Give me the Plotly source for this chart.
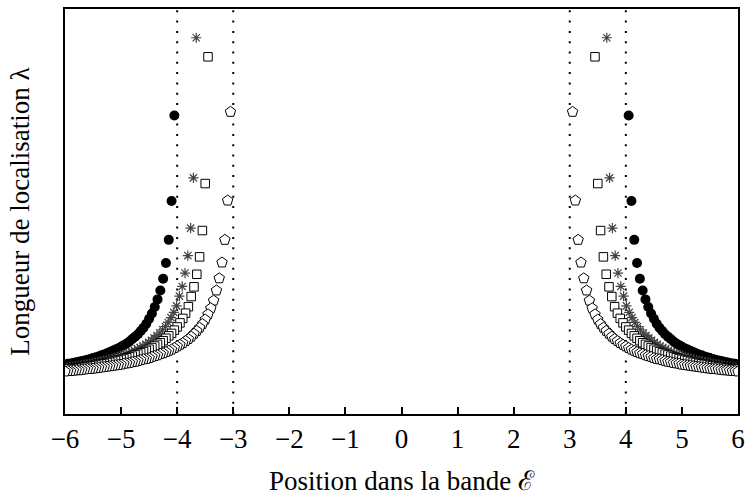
import numpy as np
import plotly.graph_objects as go

# Localisation length on each side of the band (|E| grid, symmetric in E -> -E)
# Energy grids (step 0.05) for each disorder series
energy_circles = np.round(np.arange(4.05, 6.0001, 0.05), 2)
energy_stars = np.round(np.arange(3.66, 5.9601, 0.05), 2)
energy_squares = np.round(np.arange(3.45, 6.0001, 0.05), 2)
energy_pentagons = np.round(np.arange(3.05, 6.0001, 0.05), 2)

lambda_circles = [
    73.7, 52.6, 43.0, 37.3, 33.4, 30.5, 28.3, 26.4, 24.8, 23.5,
    22.3, 21.3, 20.5, 19.7, 19.1, 18.5, 17.9, 17.4, 17.0, 16.6,
    16.2, 15.9, 15.6, 15.3, 15.0, 14.7, 14.5, 14.2, 14.0, 13.8,
    13.6, 13.4, 13.2, 13.1, 12.9, 12.8, 12.6, 12.5, 12.4, 12.2,
]
lambda_stars = [
    92.9, 58.3, 45.9, 39.1, 34.8, 31.5, 29.1, 26.7, 25.1, 23.8,
    22.6, 21.6, 20.8, 20.0, 19.4, 18.8, 18.2, 17.7, 17.2, 16.8,
    16.4, 16.1, 15.7, 15.4, 15.1, 14.9, 14.6, 14.4, 14.1, 13.9,
    13.7, 13.5, 13.3, 13.2, 13.0, 12.9, 12.7, 12.6, 12.4, 12.3,
    12.2, 12.0, 11.9, 11.8, 11.7, 11.6, 11.5,
]
lambda_squares = [
    88.2, 56.9, 45.3, 38.8, 34.5, 31.4, 29.0, 26.5, 24.9, 23.6,
    22.5, 21.5, 20.7, 19.9, 19.3, 18.7, 18.1, 17.6, 17.2, 16.8,
    16.4, 16.0, 15.7, 15.4, 15.1, 14.8, 14.6, 14.3, 14.1, 13.9,
    13.7, 13.5, 13.3, 13.2, 13.0, 12.8, 12.7, 12.5, 12.4, 12.3,
    12.2, 12.0, 11.9, 11.8, 11.7, 11.6, 11.5, 11.4, 11.3, 11.2,
    11.2, 11.1,
]
lambda_pentagons = [
    74.6, 52.7, 43.0, 37.4, 33.5, 30.5, 28.0, 26.1, 24.6, 23.3,
    22.2, 21.3, 20.5, 19.8, 19.1, 18.5, 18.0, 17.5, 17.1, 16.7,
    16.3, 15.9, 15.6, 15.3, 15.0, 14.8, 14.5, 14.3, 14.1, 13.8,
    13.6, 13.5, 13.3, 13.1, 12.9, 12.8, 12.6, 12.5, 12.4, 12.2,
    12.1, 12.0, 11.9, 11.8, 11.7, 11.6, 11.5, 11.4, 11.3, 11.2,
    11.1, 11.1, 11.0, 10.9, 10.8, 10.8, 10.7, 10.6, 10.6, 10.5,
]

band_edges = [-4, -3, 3, 4]
x_ticks = list(range(-6, 7))

FONT = "Liberation Serif"
SIZE = 27


def both_sides(energies, values):
    e = list(energies)
    return [-v for v in e] + e, list(values) + list(values)


fig = go.Figure()

x, y = both_sides(energy_circles, lambda_circles)
fig.add_trace(go.Scatter(
    x=x, y=y, mode="markers", name="circles",
    marker=dict(symbol="circle", size=10, color="black",
                line=dict(width=0)),
))
x, y = both_sides(energy_stars, lambda_stars)
fig.add_trace(go.Scatter(
    x=x, y=y, mode="markers", name="stars",
    marker=dict(symbol="asterisk-open", size=8.5, color="#444444",
                line=dict(width=1.2, color="#444444")),
))
x, y = both_sides(energy_squares, lambda_squares)
fig.add_trace(go.Scatter(
    x=x, y=y, mode="markers", name="squares",
    marker=dict(symbol="square", size=8.5, color="white",
                line=dict(width=1, color="black")),
))
x, y = both_sides(energy_pentagons, lambda_pentagons)
fig.add_trace(go.Scatter(
    x=x, y=y, mode="markers", name="pentagons",
    marker=dict(symbol="pentagon", size=11, color="white",
                line=dict(width=1, color="black")),
))

for e in band_edges:
    fig.add_shape(type="line", xref="x", yref="paper",
                  x0=e, x1=e, y0=0, y1=1,
                  line=dict(color="black", width=2, dash="2px,8.3px"),
                  layer="below")

fig.update_layout(
    width=752, height=498,
    margin=dict(l=65, r=7, t=8, b=83),
    paper_bgcolor="white", plot_bgcolor="white",
    showlegend=False,
    font=dict(family=FONT, size=SIZE, color="black"),
    xaxis=dict(
        range=[-6, 6], tickmode="array", tickvals=x_ticks,
        ticks="inside", ticklen=7, tickwidth=1.5, tickcolor="black",
        showline=True, linecolor="black", linewidth=2, mirror=True,
        showgrid=False, zeroline=False,
        tickfont=dict(family=FONT, size=SIZE),
        title=dict(text="Position dans la bande ℰ",
                   font=dict(family=FONT, size=SIZE), standoff=18),
    ),
    yaxis=dict(
        range=[0, 100], showticklabels=False, ticks="",
        showline=True, linecolor="black", linewidth=2, mirror=True,
        showgrid=False, zeroline=False,
        title=dict(text="Longueur de localisation λ",
                   font=dict(family=FONT, size=SIZE), standoff=26),
    ),
)

fig.write_html("out.html")
